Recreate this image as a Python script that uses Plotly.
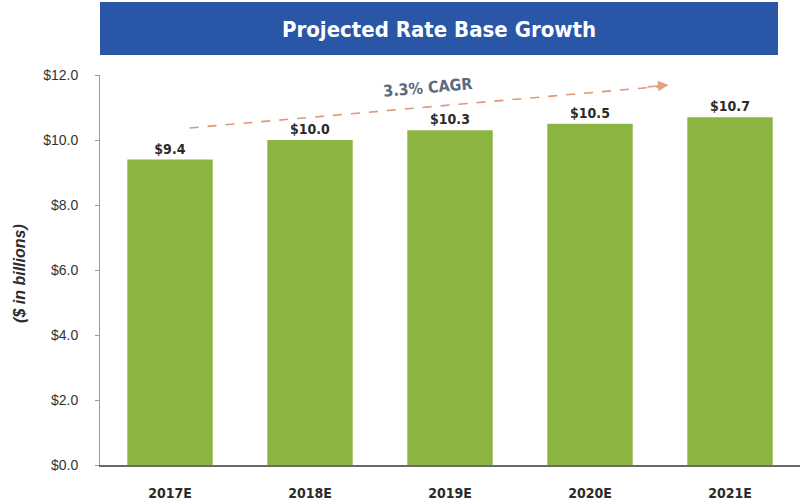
import plotly.graph_objects as go

# Projected rate base, $ billions
years = ["2017E", "2018E", "2019E", "2020E", "2021E"]
rate_base = [9.4, 10.0, 10.3, 10.5, 10.7]
y_ticks = [0, 2, 4, 6, 8, 10, 12]
y_tick_labels = ["$0.0", "$2.0", "$4.0", "$6.0", "$8.0", "$10.0", "$12.0"]
cagr_label = "3.3% CAGR"

BAR_GREEN = "#8cb443"
BANNER_BLUE = "#2a56a8"
TEXT_DARK = "#2b2b2b"
NARROW = "DejaVu Sans Condensed, Liberation Sans Narrow, Arial Narrow, Liberation Sans, sans-serif"

fig = go.Figure()
fig.add_trace(go.Bar(
    x=years,
    y=rate_base,
    marker=dict(color=BAR_GREEN, line=dict(width=0)),
    texttemplate="$%{y:.1f}",
    textposition="outside",
    cliponaxis=False,
    textfont=dict(family=NARROW, size=14, color=TEXT_DARK, weight="bold"),
    width=0.61,
))

# dashed growth arrow across the bars
x0, y0, x1, y1 = 0.14, 10.37, 3.54, 11.66
fig.add_shape(type="line", xref="x", yref="y", x0=x0, y0=y0, x1=x1, y1=y1,
              line=dict(color="#e0967a", width=1.6, dash="dash"))
fig.add_annotation(xref="x", yref="y", x=3.56, y=11.69, ax=3.40, ay=11.63,
                   axref="x", ayref="y", text="", showarrow=True,
                   arrowhead=2, arrowsize=1.3, arrowwidth=1.6, arrowcolor="#e8a07c")
fig.add_annotation(xref="x", yref="y", x=1.84, y=11.62, text=f"<b>{cagr_label}</b>",
                   showarrow=False, textangle=-5,
                   font=dict(family=NARROW, size=16, color="#5c6a80"))

# title banner (paper y: pixel p maps to (465 - p) / 390)
fig.add_shape(type="rect", xref="paper", yref="paper",
              x0=0.0, x1=678 / 700, y0=(465 - 55) / 390, y1=(465 - 2) / 390,
              fillcolor=BANNER_BLUE, line=dict(width=0), layer="above")
fig.add_annotation(xref="paper", yref="paper", x=339 / 700, y=(465 - 30) / 390,
                   xanchor="center", yanchor="middle",
                   text="<b>Projected Rate Base Growth</b>", showarrow=False,
                   font=dict(family=NARROW, size=22, color="white"))

# y axis title
fig.add_annotation(xref="paper", yref="paper", x=-80 / 700, y=0.49,
                   xanchor="center", yanchor="middle",
                   text="<b><i>($ in billions)</i></b>", showarrow=False, textangle=-90,
                   font=dict(family="Liberation Sans, Arial, sans-serif", size=16, color=TEXT_DARK))

fig.update_layout(
    width=808, height=501,
    margin=dict(l=100, r=8, t=75, b=36, autoexpand=False),
    paper_bgcolor="white", plot_bgcolor="white",
    showlegend=False,
    bargap=0.39,
    xaxis=dict(
        range=[-0.5, 4.5],
        automargin=False,
        showline=True, linecolor="#6a6a6a", linewidth=1.5,
        ticks="", showgrid=False,
        ticklabelstandoff=14,
        tickfont=dict(family=NARROW, size=14, color=TEXT_DARK, weight="bold"),
    ),
    yaxis=dict(
        range=[0, 12],
        automargin=False,
        tickvals=y_ticks, ticktext=y_tick_labels,
        showline=True, linecolor="#9a9a9a", linewidth=1,
        ticks="outside", ticklen=4, tickcolor="#9a9a9a",
        ticklabelstandoff=14,
        showgrid=False, zeroline=False,
        tickfont=dict(family="Liberation Sans, Arial, sans-serif", size=14, color="#333333"),
    ),
)

fig.write_html("out.html")
